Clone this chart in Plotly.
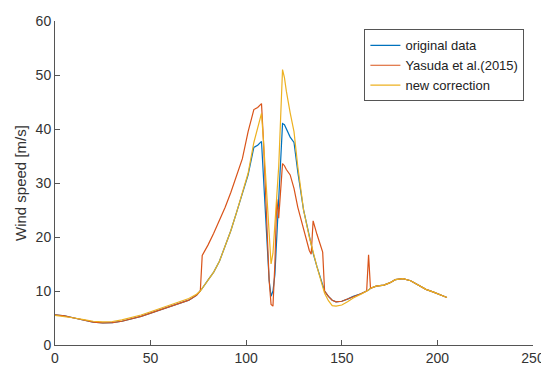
import plotly.graph_objects as go

x_vals = [0, 5, 10, 15, 20, 25, 30, 35, 40, 45, 50, 55, 60, 65, 70, 74, 76, 77,
          80, 83, 86, 89, 92, 95, 98, 101, 104, 106, 108, 109, 111, 112, 113, 114,
          115, 116, 117, 118, 119, 120, 121, 123, 125, 127, 130, 133, 134, 135, 137,
          139, 140, 141, 143, 145, 147, 150, 153, 156, 160, 163, 164, 165, 168, 172,
          175, 178, 182, 186, 190, 194, 198, 202, 205]

original = [5.6, 5.4, 5.0, 4.6, 4.25, 4.1, 4.15, 4.4, 4.8, 5.3, 5.9, 6.5, 7.0, 7.6, 8.3, 9.2, 10.0, 10.5,
            12.0, 13.5, 15.5, 18.2, 21.2, 24.6, 28.2, 31.5, 36.6, 37.0, 37.7, 31.0, 20.0, 12.0, 9.0, 10.0,
            13.0, 20.0, 26.0, 35.0, 41.0, 40.8, 40.0, 38.5, 37.5, 32.0, 25.0, 20.0, 18.5, 17.0, 14.5,
            12.0, 11.0, 10.0, 9.0, 8.3, 8.0, 8.1, 8.5, 9.0, 9.5, 10.0, 10.2, 10.5, 10.9, 11.1,
            11.5, 12.1, 12.3, 11.9, 11.1, 10.3, 9.8, 9.2, 8.8]

yasuda = [5.6, 5.4, 5.0, 4.6, 4.25, 4.1, 4.15, 4.4, 4.8, 5.3, 5.9, 6.5, 7.0, 7.6, 8.3, 9.2, 10.0, 16.6,
          18.5, 20.7, 23.0, 25.5, 28.3, 31.5, 34.5, 39.5, 43.6, 44.0, 44.7, 38.0, 22.0, 12.0, 7.5, 7.2,
          15.0, 27.0, 23.5, 28.0, 33.6, 33.2, 32.5, 31.5, 29.0, 25.5, 21.5, 17.5, 16.8, 23.0, 20.5,
          18.0, 17.2, 10.0, 9.0, 8.3, 8.0, 8.1, 8.5, 9.0, 9.5, 10.0, 16.7, 10.5, 10.9, 11.1,
          11.5, 12.1, 12.3, 11.9, 11.1, 10.3, 9.8, 9.2, 8.8]

new_corr = [5.5, 5.3, 5.0, 4.7, 4.4, 4.3, 4.35, 4.65, 5.05, 5.55, 6.15, 6.75, 7.3, 7.9, 8.6, 9.4, 10.0, 10.5,
            12.0, 13.5, 15.5, 18.2, 21.2, 24.6, 28.2, 31.8, 37.5, 40.0, 42.9, 38.0, 26.0, 20.0, 15.0, 17.0,
            22.0, 27.0, 33.0, 42.0, 51.0, 49.5, 47.0, 43.0, 39.5, 33.0, 25.0, 20.0, 18.5, 17.0, 14.5,
            12.0, 11.0, 9.6, 8.2, 7.3, 7.2, 7.4, 8.0, 8.7, 9.4, 9.9, 10.2, 10.5, 10.9, 11.1,
            11.5, 12.1, 12.3, 11.9, 11.1, 10.3, 9.8, 9.2, 8.8]

series_names = ["original data", "Yasuda et al.(2015)", "new correction"]
x_ticks = [0, 50, 100, 150, 200, 250]
y_ticks = [0, 10, 20, 30, 40, 50, 60]
y_title = "Wind speed [m/s]"

colors = ["#0072BD", "#D95319", "#EDB120"]

fig = go.Figure()
for name, ys, c in zip(series_names, [original, yasuda, new_corr], colors):
    fig.add_trace(go.Scatter(x=x_vals, y=ys, mode="lines", name=name,
                             line=dict(color=c, width=1.2)))

axis_common = dict(showgrid=False, zeroline=False, showline=True, automargin=False,
                   linecolor="#555555", linewidth=1, ticks="inside", ticklen=5,
                   tickcolor="#555555", tickfont=dict(size=14, color="#333333"))

fig.update_layout(
    width=549, height=365,
    margin=dict(l=47, r=24, t=13, b=28),
    paper_bgcolor="white", plot_bgcolor="white",
    font=dict(family="Liberation Sans, Arial, sans-serif", color="#333333"),
    xaxis=dict(range=[0, 250], tickvals=x_ticks, **axis_common),
    yaxis=dict(range=[0, 60], tickvals=y_ticks, **axis_common),
    legend=dict(x=0.982, y=0.974, xanchor="right", yanchor="top",
                bordercolor="#555555", borderwidth=1, bgcolor="white",
                font=dict(size=13, color="#222222"), tracegroupgap=0,
                itemwidth=30),
    showlegend=True,
    annotations=[dict(text=y_title, xref="paper", yref="paper", x=0, y=0.5,
                      xanchor="center", yanchor="middle", xshift=-35, textangle=-90,
                      showarrow=False, font=dict(size=15, color="#333333"))],
)

fig.write_html("out.html")
